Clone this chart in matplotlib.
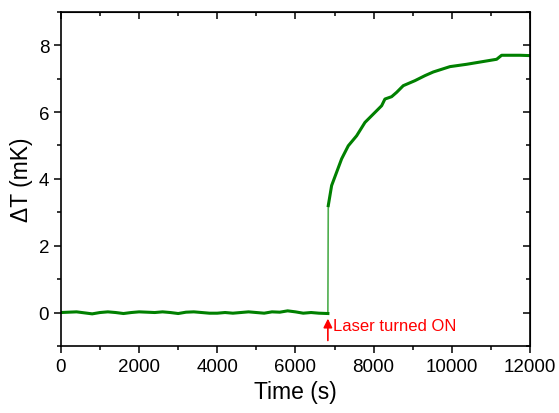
import numpy as np
import matplotlib
matplotlib.use('Agg')
import matplotlib.pyplot as plt
from matplotlib.ticker import MultipleLocator

plt.rcParams['font.family'] = ['Liberation Sans', 'DejaVu Sans']

# baseline before the laser is switched on
t_off = [0, 200, 400, 600, 800, 1000, 1200, 1400, 1600, 1800, 2000, 2200,
         2400, 2600, 2800, 3000, 3200, 3400, 3600, 3800, 4000, 4200, 4400,
         4600, 4800, 5000, 5200, 5400, 5600, 5800, 6000, 6200, 6400, 6600, 6830]
dT_off = [0.0, 0.01, 0.02, -0.01, -0.04, 0.0, 0.02, 0.0, -0.03, 0.0, 0.02,
          0.01, 0.0, 0.02, 0.0, -0.03, 0.01, 0.02, 0.0, -0.02, -0.02, 0.0,
          -0.02, 0.0, 0.02, 0.0, -0.02, 0.02, 0.01, 0.05, 0.02, -0.02, 0.0,
          -0.02, -0.03]

# heating after the laser is switched on
t_on = [6840, 6926, 7054, 7182, 7352, 7566, 7779, 8078, 8206, 8290, 8461,
        8589, 8759, 9058, 9314, 9527, 9954, 10380, 10636, 10892, 11148,
        11276, 11744, 12000]
dT_on = [3.20, 3.80, 4.20, 4.60, 4.99, 5.29, 5.69, 6.04, 6.19, 6.39, 6.46,
         6.59, 6.79, 6.94, 7.09, 7.20, 7.36, 7.43, 7.48, 7.53, 7.58, 7.70,
         7.70, 7.69]

t_laser = 6830

fig = plt.figure(figsize=(5.59, 4.14), dpi=100)
ax = fig.add_axes([0.109, 0.162, 0.839, 0.807])

green = '#008000'
ax.plot([t_off[-1], t_on[0]], [dT_off[-1], dT_on[0]], color='#4fae4f', lw=1.2)
ax.plot(t_off, dT_off, color=green, lw=2.2)
ax.plot(t_on, dT_on, color=green, lw=2.2)

ax.annotate('', xy=(t_laser, -0.1), xytext=(t_laser, -0.92),
            arrowprops=dict(arrowstyle='-|>', color='red', lw=1.2,
                            mutation_scale=13))
ax.text(t_laser + 120, -0.38, 'Laser turned ON', color='red', fontsize=12,
        va='center', ha='left')

ax.set_xlim(0, 12000)
ax.set_ylim(-1, 9)
ax.xaxis.set_major_locator(MultipleLocator(2000))
ax.xaxis.set_minor_locator(MultipleLocator(1000))
ax.yaxis.set_major_locator(MultipleLocator(2))
ax.yaxis.set_minor_locator(MultipleLocator(1))
ax.tick_params(which='major', direction='out', length=5, width=1.1,
               labelsize=13.5)
ax.tick_params(which='minor', direction='out', length=3, width=1.1)
for s in ax.spines.values():
    s.set_linewidth(1.2)

# top and right ticks point inward
top = ax.secondary_xaxis('top')
top.xaxis.set_major_locator(MultipleLocator(2000))
top.xaxis.set_minor_locator(MultipleLocator(1000))
top.tick_params(which='major', direction='in', length=5, width=1.1, labeltop=False)
top.tick_params(which='minor', direction='in', length=3, width=1.1)
right = ax.secondary_yaxis('right')
right.yaxis.set_major_locator(MultipleLocator(2))
right.yaxis.set_minor_locator(MultipleLocator(1))
right.tick_params(which='major', direction='in', length=5, width=1.1, labelright=False)
right.tick_params(which='minor', direction='in', length=3, width=1.1)

ax.set_xlabel('Time (s)', fontsize=16.5, labelpad=4)
ax.set_ylabel('\u0394T (mK)', fontsize=16.5, labelpad=4)

fig.savefig('out.png', dpi=100)
